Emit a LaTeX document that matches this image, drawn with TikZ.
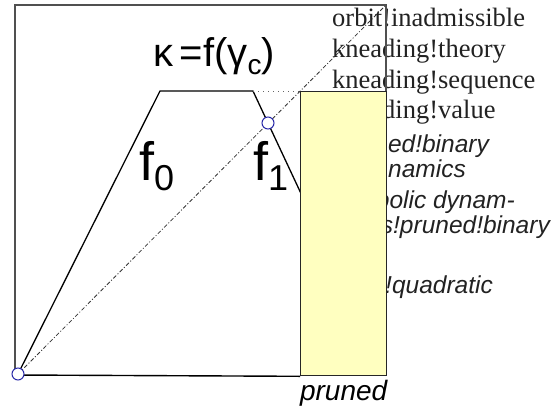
\documentclass[tikz,border=0pt]{standalone}
\usepackage{fontspec}
\setmainfont{Liberation Serif}
\setsansfont{Liberation Sans}
\definecolor{pale}{HTML}{FFFFC0}
\definecolor{ptblue}{HTML}{2828A8}
\definecolor{framegray}{HTML}{505050}
\definecolor{txt}{HTML}{222222}
\begin{document}
\begin{tikzpicture}[x=1pt,y=-1pt,
  serifidx/.style={font=\fontsize{26.5}{31}\selectfont, text=txt, anchor=base west, inner sep=0},
  sansidx/.style={font=\sffamily\itshape\fontsize{24.5}{30}\selectfont, text=txt, anchor=base east, inner sep=0},
  ptmark/.style={circle, draw=ptblue, fill=white, line width=1pt, minimum size=12pt, inner sep=0},
  biglabel/.style={font=\sffamily\fontsize{40}{40}\selectfont, text=black, inner sep=0, anchor=base west},
  fnlabel/.style={font=\sffamily\fontsize{54}{54}\selectfont, text=black, inner sep=0, anchor=base west},
  mapline/.style={line width=1.3pt, black},
  diag/.style={line width=0.8pt, black!80, dash pattern=on 4pt off 2pt on 1pt off 2pt},
  dotline/.style={line width=0.8pt, black!60, dash pattern=on 1pt off 4pt}]
\useasboundingbox (0,0) rectangle (557,413);
% leaked index text (partly hidden by the box)
\node[serifidx] (t1) at (332,26) {orbit!inadmissible};
\node[serifidx] (t2) at (332,57) {kneading!theory};
\node[serifidx] (t3) at (332,88) {kneading!sequence};
\node[serifidx] (t4) at (332,118) {\phantom{knea}ding!value};
\node[sansidx] (s1) at (489,152) {ed!binary};
\node[sansidx] (s2) at (466,177) {namics};
\node[sansidx] (s3) at (515,208) {bolic dynam-};
\node[sansidx] (s4) at (550,233) {s!pruned!binary};
\node[sansidx] (s5) at (493,293) {!quadratic};
% map
\coordinate (o) at (18,374);
\coordinate (pl) at (160,91);
\coordinate (pr) at (253,91);
\coordinate (end) at (386,375);
\coordinate (tr) at (386,5);
\coordinate (dotend) at (386,91);
\draw[mapline] (o) -- (pl) -- (pr) -- (end);
\draw[dotline] (pr) -- (dotend);
\draw[diag] (o) -- (tr);
% pruned box
\node[draw=black!85, fill=pale, line width=1.3pt, minimum width=86pt, minimum height=284pt, anchor=north west, inner sep=0] (box) at (300,91) {};
% frame
\draw[framegray, line width=1.4pt] (15,375) -- (15,5) -- (tr) -- (386,91);
\draw[black, line width=1.4pt] (15,375) -- (box.south west);
% labels
\node[biglabel] (kap) at (153,66) {κ\,=f(γ\raisebox{-8pt}{\fontsize{28}{28}\selectfont c})};
\node[fnlabel] (f0) at (139,180) {f\raisebox{-10pt}{\fontsize{36}{36}\selectfont 0}};
\node[fnlabel] (f1) at (253,180) {f\raisebox{-10pt}{\fontsize{36}{36}\selectfont 1}};
\node[font=\sffamily\itshape\fontsize{28}{28}\selectfont, text=black, inner sep=0, anchor=base] (pl2) at (box.south |- 0,400) {pruned};
% marks
\node[ptmark] (c0) at (o) {};
\node[ptmark] (c1) at (268,123) {};
\end{tikzpicture}
\end{document}
